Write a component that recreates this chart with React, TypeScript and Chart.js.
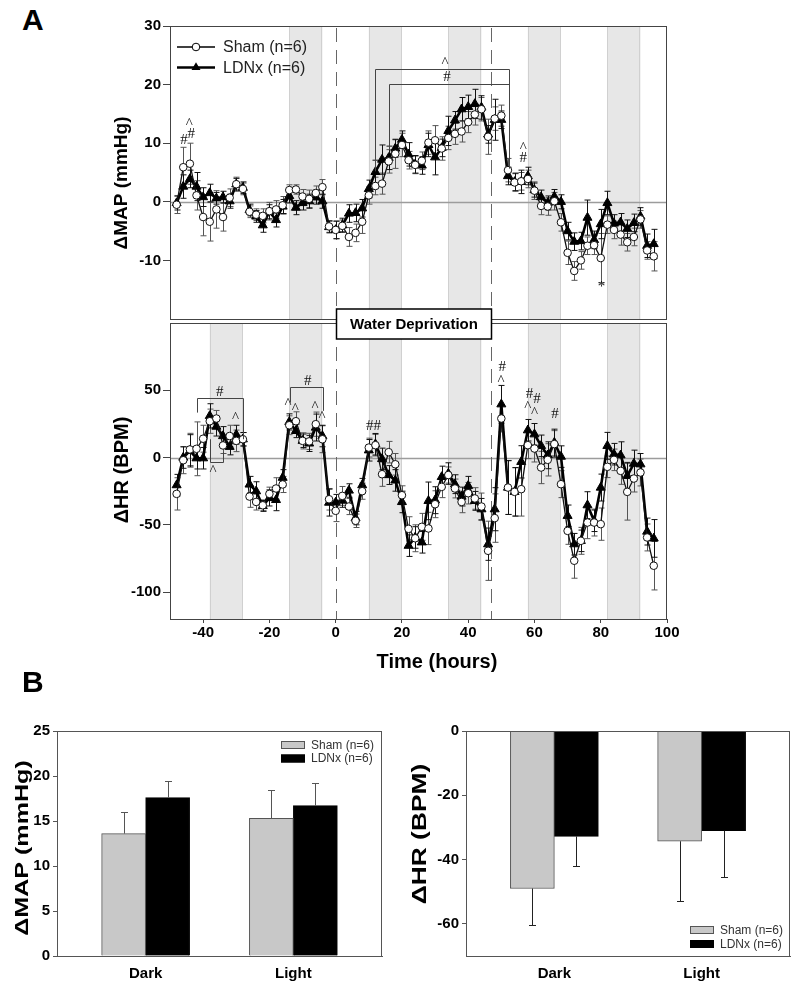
import React, { useEffect, useRef } from 'react';
import { Chart, registerables } from 'chart.js';

Chart.register(...registerables);

const FONT = '"Liberation Sans", Arial, Helvetica, sans-serif';
const SERIF = '"Liberation Serif", "Times New Roman", serif';

// ---------------- Panel A data ----------------
const HOURS = [
  -48, -46, -44, -42, -40, -38, -36, -34, -32, -30,
  -28, -26, -24, -22, -20, -18, -16, -14, -12, -10,
  -8, -6, -4, -2, 0, 2, 4, 6, 8, 10,
  12, 14, 16, 18, 20, 22, 24, 26, 28, 30,
  32, 34, 36, 38, 40, 42, 44, 46, 48, 50,
  52, 54, 56, 58, 60, 62, 64, 66, 68, 70,
  72, 74, 76, 78, 80, 82, 84, 86, 88, 90,
  92, 94, 96,
];

const MAP_SHAM = [
  -0.5, 5.9, 6.5, 1.1, -2.6, -3.4, -1.3, -2.6, 0.7, 3.0,
  2.2, -1.7, -2.2, -2.4, -1.6, -1.3, -0.6, 2.0, 2.1, 0.9,
  0.5, 1.5, 2.5, -4.2, -4.8, -4.1, -6.0, -5.3, -3.4, 1.1,
  2.7, 3.1, 6.9, 8.2, 9.7, 7.1, 6.3, 7.0, 10.1, 10.5,
  9.1, 10.9, 11.6, 12.0, 13.6, 14.9, 15.8, 11.1, 14.2, 14.7,
  5.4, 3.3, 3.5, 3.9, 1.9, -0.7, -0.8, 0.1, -3.5, -8.7,
  -11.8, -10.0, -7.5, -7.4, -9.6, -3.9, -4.8, -5.6, -6.9, -6.0,
  -3.0, -8.3, -9.3,
];
const MAP_SHAM_ERR = [
  1.5, 3.4, 3.5, 2.5, 3.2, 3.3, 3.2, 2.4, 1.5, 1.2,
  1.0, 1.0, 1.0, 1.2, 1.5, 1.5, 1.5, 0.9, 0.8, 1.2,
  1.5, 1.2, 1.3, 1.0, 1.5, 1.0, 1.6, 1.5, 2.0, 1.5,
  1.5, 1.8, 2.0, 2.5, 2.0, 1.5, 1.5, 1.5, 2.0, 2.5,
  2.0, 2.0, 1.8, 1.8, 1.8, 1.8, 2.0, 3.0, 2.0, 1.8,
  2.0, 1.5, 1.5, 1.5, 1.5, 1.5, 1.5, 1.5, 1.5, 2.0,
  1.6, 1.5, 1.5, 1.6, 4.2, 1.5, 1.5, 1.8, 1.5, 1.5,
  1.5, 1.5, 2.5,
];
const MAP_LDNX = [
  -0.2, 2.6, 3.9, 2.6, 0.8, 1.5, 0.6, 0.8, 0.1, 3.0,
  2.4, -1.4, -2.5, -4.0, -1.7, -3.1, -0.8, 1.0, -1.0, -0.2,
  0.1, 0.8, 0.1, -4.3, -4.8, -4.0, -2.0, -1.9, -1.1, 2.2,
  5.1, 7.2, 7.5, 9.1, 10.6, 8.1, 6.4, 6.2, 9.7, 7.6,
  9.2, 12.1, 13.9, 15.8, 16.2, 16.7, 16.1, 11.5, 14.0, 14.0,
  4.4, 3.4, 3.4, 4.4, 2.0, 0.8, -0.2, 0.9, 0.0, -5.0,
  -6.8, -6.7, -2.7, -6.5, -3.8, -0.2, -3.7, -3.5, -4.6, -3.6,
  -2.5, -7.5, -7.2,
];
const MAP_LDNX_ERR = [
  1.2, 2.0, 1.5, 2.4, 1.6, 1.5, 1.0, 1.0, 1.2, 1.0,
  1.0, 1.0, 1.0, 1.2, 1.2, 1.2, 1.2, 1.2, 1.2, 1.2,
  1.2, 1.2, 1.2, 1.0, 1.5, 1.2, 1.5, 1.5, 1.5, 1.5,
  2.0, 2.5, 2.0, 1.5, 1.5, 2.0, 1.5, 1.5, 2.0, 3.0,
  1.5, 2.5, 1.5, 2.0, 2.0, 2.5, 2.0, 1.5, 3.5, 1.5,
  1.5, 1.5, 2.0, 1.5, 1.2, 1.2, 1.2, 1.2, 1.2, 1.5,
  1.5, 1.5, 3.0, 1.5, 2.5, 2.0, 1.5, 1.5, 1.5, 1.5,
  1.5, 2.0, 2.5,
];

const HR_SHAM = [
  -27, -2, 6, 6.5, 14, 27, 29, 9, 16, 12.4,
  13.6, -29, -33, -35.5, -27, -23, -20, 24, 27, 12.4,
  12, 24.8, 13.6, -31, -39.6, -28.5, -36.4, -47, -25, 7.4,
  9.2, -12.4, 4, -5, -28, -53, -60, -51.5, -52.7, -34.7,
  -21.8, -13, -23, -33, -26.5, -30.4, -36.4, -69.3, -45, 29,
  -22.3, -25.5, -23.5, 9.2, 6.7, -7.4, -1.7, 10, -19.8, -54.5,
  -76.7, -61.9, -48.3, -48.3, -49.5, -6.9, -1.7, -9.9, -25.5, -15.6,
  -11.1, -59.4, -80.4,
];
const HR_SHAM_ERR = [
  12, 10, 12, 20, 10, 9, 6, 6, 8, 8,
  5, 8, 6, 4, 5, 8, 6, 7, 7, 6,
  6, 9, 10, 8, 8, 7, 6, 5, 6, 7,
  8, 9, 8, 8, 7, 9, 10, 10, 12, 10,
  8, 6, 7, 8, 8, 8, 10, 22, 18, 10,
  20, 18, 20, 10, 10, 12, 12, 10, 10, 10,
  13, 10, 12, 10, 12, 8, 8, 10, 21, 10,
  10, 10, 18,
];
const HR_LDNX = [
  -20.5, 0, 5, -0.5, -0.5, 31, 23, 16, 8, 17,
  13.6, -20, -25, -36, -30, -31.5, -15, 26.5, 19.8, 12.5,
  10.5, 22.3, 16, -33.5, -33.4, -32, -24.5, -45, -20.5, 5.4,
  9.9, -1, -13, -17, -33, -65.5, -59.4, -63, -32.2, -31.7,
  -14.4, -11.9, -19.8, -29, -21, -32.2, -38.4, -64.4, -38.4, 39.6,
  -22.3, -25.5, -3.2, 20.3, 17.3, 8.7, 1.7, 11.1, 0.7, -43.3,
  -64.4, -61.9, -35.4, -47, -22.3, 8.7, 2.5, 1.7, -13.6, -4.5,
  -5, -55, -60.1,
];
const HR_LDNX_ERR = [
  8, 8, 12, 8, 8, 9, 7, 7, 6, 7,
  5, 6, 7, 4, 6, 8, 6, 6, 5, 5,
  6, 10, 8, 10, 6, 5, 5, 5, 5, 8,
  8, 8, 7, 8, 8, 8, 8, 8, 14, 10,
  8, 8, 7, 7, 7, 7, 8, 12, 16, 14,
  20, 18, 12, 8, 8, 8, 10, 10, 8, 8,
  8, 8, 10, 8, 10, 10, 8, 10, 10, 10,
  8, 10, 14,
];

// dark periods (hours) and water-deprivation window
const MAP_BANDS = [[-14, -4], [10, 20], [34, 44], [58, 68], [82, 92]];
const HR_BANDS = [[-38, -28], [-14, -4], [10, 20], [34, 44], [58, 68], [82, 92]];
const WD_START = 0;
const WD_END = 47;

// significance marks (hour, value, symbol)
const MAP_MARKS = [
  { t: -45.8, v: 10.5, text: '#' }, { t: -43.6, v: 11.6, text: '#' }, { t: -44.2, v: 13.8, text: '^' },
  { t: 33, v: 24.2, text: '^' }, { t: 33.6, v: 21.3, text: '#' },
  { t: 56.6, v: 9.7, text: '^' }, { t: 56.6, v: 7.5, text: '#' },
  { t: 80.2, v: -13.8, text: '*' },
];
const MAP_BRACKETS = [
  { t1: 12, t2: 52.2, v: 22.6, l1: 5.2, l2: 5.7 },
  { t1: 16, t2: 52.2, v: 20.1, l1: 8.8, l2: 5.7 },
];
const HR_MARKS = [
  { t: -35, v: 48.7, text: '#' }, { t: -37, v: -8, text: '^' }, { t: -30.2, v: 31.4, text: '^' },
  { t: -8.4, v: 56.9, text: '#' }, { t: -14.4, v: 42, text: '^' }, { t: -12.2, v: 37.9, text: '^' },
  { t: -6.2, v: 39.6, text: '^' }, { t: -4.1, v: 32.2, text: '^' },
  { t: 11.4, v: 23.5, text: '##' },
  { t: 50.3, v: 67.6, text: '#' }, { t: 49.9, v: 59.4, text: '^' },
  { t: 58.5, v: 47, text: '#' }, { t: 60.8, v: 43.8, text: '#' }, { t: 58, v: 40, text: '^' }, { t: 60, v: 35.4, text: '^' },
  { t: 66.2, v: 32.2, text: '#' },
];
const HR_BRACKETS = [
  { t1: -42, t2: -28, v: 44.6, l1: 33.4, l2: 13.6 },
  { t1: -38, t2: -34, v: -3, l1: 13.6, l2: 4 },
  { t1: -13.7, t2: -3.9, v: 52.7, l1: 40.8, l2: 34.7 },
];

// ---------------- Panel B data ----------------
const B_CATS = ['Dark', 'Light'];
const B_MAP_SHAM = [13.6, 15.3];
const B_MAP_SHAM_ERR = [2.4, 3.1];
const B_MAP_LDNX = [17.6, 16.7];
const B_MAP_LDNX_ERR = [1.9, 2.5];
const B_HR_SHAM = [-49, -34.3];
const B_HR_SHAM_ERR = [11.3, 18.5];
const B_HR_LDNX = [-32.8, -31];
const B_HR_LDNX_ERR = [9.1, 14.3];

// ---------------- helpers ----------------
const GLYPH_DY: any = { '^': 3, '*': 4, '#': 0, '##': 0 };

function pts(vals: number[]) {
  return HOURS.map((h, i) => ({ x: h, y: vals[i] }));
}

function lineSets(sham: number[], ldnx: number[]) {
  return [
    {
      label: 'Sham (n=6)', data: pts(sham), borderColor: '#111', borderWidth: 1.3,
      pointStyle: 'circle', pointRadius: 3.8, pointBackgroundColor: '#fff',
      pointBorderColor: '#111', pointBorderWidth: 1, order: 0,
    },
    {
      label: 'LDNx (n=6)', data: pts(ldnx), borderColor: '#000', borderWidth: 2.6,
      pointStyle: 'triangle', pointRadius: 5.2, pointBackgroundColor: '#000',
      pointBorderColor: '#000', pointBorderWidth: 1, order: 1,
    },
  ];
}

function drawVText(ctx: any, text: string, cx: number, cy: number, size: number, stretch = 1) {
  ctx.save();
  ctx.translate(cx, cy);
  ctx.rotate(-Math.PI / 2);
  ctx.scale(stretch, 1);
  ctx.font = `bold ${size}px ${FONT}`;
  ctx.fillStyle = '#000';
  ctx.textAlign = 'center';
  ctx.textBaseline = 'middle';
  ctx.fillText(text, 0, 0);
  ctx.restore();
}

function drawTriangle(ctx: any, x: number, y: number, r: number) {
  ctx.beginPath();
  ctx.moveTo(x, y - r);
  ctx.lineTo(x + r * 0.866, y + r * 0.5);
  ctx.lineTo(x - r * 0.866, y + r * 0.5);
  ctx.closePath();
  ctx.fill();
}

function timePanelPlugin(cfg: any) {
  return {
    id: 'timePanel',
    beforeDatasetsDraw(chart: any) {
      const { ctx, chartArea: a, scales } = chart;
      const x = scales.x, y = scales.y;
      ctx.save();
      // dark-period bands
      for (const [b1, b2] of cfg.bands) {
        const x1 = x.getPixelForValue(b1), x2 = x.getPixelForValue(b2);
        ctx.fillStyle = '#e7e7e7';
        ctx.fillRect(x1, a.top, x2 - x1, a.bottom - a.top);
        ctx.strokeStyle = '#d0d0d0';
        ctx.lineWidth = 1;
        ctx.beginPath();
        ctx.moveTo(Math.round(x1) + 0.5, a.top); ctx.lineTo(Math.round(x1) + 0.5, a.bottom);
        ctx.moveTo(Math.round(x2) - 0.5, a.top); ctx.lineTo(Math.round(x2) - 0.5, a.bottom);
        ctx.stroke();
      }
      // zero line
      const y0 = Math.round(y.getPixelForValue(0)) + 0.5;
      ctx.strokeStyle = '#9c9c9c';
      ctx.lineWidth = 1.3;
      ctx.beginPath(); ctx.moveTo(a.left, y0); ctx.lineTo(a.right, y0); ctx.stroke();
      // water deprivation dashed lines
      ctx.setLineDash([14, 8]);
      ctx.strokeStyle = '#666';
      ctx.lineWidth = 1;
      for (const t of [WD_START, WD_END]) {
        const px = Math.round(x.getPixelForValue(t)) + 0.5;
        ctx.beginPath(); ctx.moveTo(px, a.top + 2); ctx.lineTo(px, a.bottom); ctx.stroke();
      }
      ctx.setLineDash([]);
      // error bars
      chart.data.datasets.forEach((ds: any, di: number) => {
        const meta = chart.getDatasetMeta(di);
        ctx.strokeStyle = cfg.errColors[di];
        ctx.lineWidth = 1;
        meta.data.forEach((el: any, i: number) => {
          const v = ds.data[i].y, e = cfg.errs[di][i];
          const px = Math.round(el.x) + 0.5;
          const yt = y.getPixelForValue(v + e), yb = y.getPixelForValue(v - e);
          ctx.beginPath();
          ctx.moveTo(px, yt); ctx.lineTo(px, yb);
          ctx.moveTo(px - 3, yt); ctx.lineTo(px + 3, yt);
          ctx.moveTo(px - 3, yb); ctx.lineTo(px + 3, yb);
          ctx.stroke();
        });
      });
      ctx.restore();
    },
    afterDatasetsDraw(chart: any) {
      const { ctx, chartArea: a, scales } = chart;
      const x = scales.x, y = scales.y;
      ctx.save();
      // frame
      ctx.strokeStyle = '#444';
      ctx.lineWidth = 1;
      ctx.strokeRect(Math.round(a.left) + 0.5, Math.round(a.top) + 0.5, Math.round(a.right - a.left) - 1, Math.round(a.bottom - a.top));
      // brackets
      ctx.strokeStyle = '#444';
      for (const b of cfg.brackets) {
        const x1 = Math.round(x.getPixelForValue(b.t1)) + 0.5, x2 = Math.round(x.getPixelForValue(b.t2)) + 0.5;
        const yb = Math.round(y.getPixelForValue(b.v)) + 0.5;
        ctx.beginPath();
        ctx.moveTo(x1, y.getPixelForValue(b.l1)); ctx.lineTo(x1, yb); ctx.lineTo(x2, yb); ctx.lineTo(x2, y.getPixelForValue(b.l2));
        ctx.stroke();
      }
      // significance marks
      ctx.fillStyle = '#111';
      ctx.font = `15px ${SERIF}`;
      ctx.textAlign = 'center';
      ctx.textBaseline = 'middle';
      for (const m of cfg.marks) {
        ctx.fillText(m.text, x.getPixelForValue(m.t), y.getPixelForValue(m.v) + (GLYPH_DY[m.text] || 0));
      }
      // legend
      if (cfg.legend) {
        const ds = chart.data.datasets;
        const rows = [47, 67.5];
        rows.forEach((ry: number, i: number) => {
          ctx.strokeStyle = '#000';
          ctx.lineWidth = ds[i].borderWidth;
          ctx.beginPath(); ctx.moveTo(177, ry); ctx.lineTo(215, ry); ctx.stroke();
          if (i === 0) {
            ctx.fillStyle = '#fff'; ctx.lineWidth = 1;
            ctx.beginPath(); ctx.arc(196, ry, 3.8, 0, Math.PI * 2); ctx.fill(); ctx.stroke();
          } else {
            ctx.fillStyle = '#000';
            drawTriangle(ctx, 196, ry, 5.2);
          }
          ctx.fillStyle = '#222';
          ctx.font = `16px ${FONT}`;
          ctx.textAlign = 'left';
          ctx.textBaseline = 'middle';
          ctx.fillText(ds[i].label, 223, ry + 1);
        });
      }
      // water deprivation box
      if (cfg.wdBox) {
        const x1 = Math.round(x.getPixelForValue(WD_START)) + 0.5, x2 = Math.round(x.getPixelForValue(WD_END)) + 0.5;
        const yt = a.top - 14, h = 30;
        ctx.fillStyle = '#fff';
        ctx.fillRect(x1, yt, x2 - x1, h);
        ctx.strokeStyle = '#000';
        ctx.lineWidth = 1.5;
        ctx.strokeRect(x1, yt, x2 - x1, h);
        ctx.fillStyle = '#000';
        ctx.font = `bold 15px ${FONT}`;
        ctx.textAlign = 'center';
        ctx.textBaseline = 'middle';
        ctx.fillText('Water Deprivation', (x1 + x2) / 2, yt + h / 2 + 1);
      }
      // axis titles
      drawVText(ctx, cfg.yTitle, cfg.yTitleX, cfg.yTitleY, cfg.yTitleSize);
      if (cfg.xTitle) {
        ctx.fillStyle = '#000';
        ctx.font = `bold 20px ${FONT}`;
        ctx.textAlign = 'center';
        ctx.textBaseline = 'middle';
        ctx.fillText(cfg.xTitle.text, cfg.xTitle.x, cfg.xTitle.y);
      }
      ctx.restore();
    },
  };
}

const tickFont = { family: FONT, size: 15, weight: 'bold' as const };

function yScale(min: number, max: number, ticks: number[], width: number) {
  return {
    type: 'linear', min, max,
    afterFit: (s: any) => { s.width = width; },
    afterBuildTicks: (s: any) => { s.ticks = ticks.map((v) => ({ value: v })); },
    border: { color: '#444', width: 1 },
    grid: { drawOnChartArea: false, tickLength: 7, color: '#444' },
    ticks: { font: tickFont, color: '#000', padding: 2 },
  };
}

const baseOpts = {
  responsive: false,
  animation: false,
  devicePixelRatio: 1,
  events: [],
  plugins: { legend: { display: false }, tooltip: { enabled: false } },
};

function makeMap() {
  return {
    type: 'line',
    data: { datasets: lineSets(MAP_SHAM, MAP_LDNX) },
    options: {
      ...baseOpts,
      layout: { padding: { left: 108, top: 26, right: 33, bottom: 7 } },
      scales: {
        x: { type: 'linear', min: -50, max: 100, display: false },
        y: yScale(-20, 30, [-10, 0, 10, 20, 30], 62),
      },
    },
    plugins: [timePanelPlugin({
      bands: MAP_BANDS, errs: [MAP_SHAM_ERR, MAP_LDNX_ERR], errColors: ['#555', '#111'],
      marks: MAP_MARKS, brackets: MAP_BRACKETS, legend: true,
      yTitle: '\u0394MAP (mmHg)', yTitleX: 122, yTitleY: 183, yTitleSize: 19,
    })],
  };
}

function makeHr() {
  return {
    type: 'line',
    data: { datasets: lineSets(HR_SHAM, HR_LDNX) },
    options: {
      ...baseOpts,
      layout: { padding: { left: 108, top: 23, right: 33, bottom: 0 } },
      scales: {
        x: {
          type: 'linear', min: -50, max: 100,
          afterFit: (s: any) => { s.height = 61; },
          afterBuildTicks: (s: any) => { s.ticks = [-40, -20, 0, 20, 40, 60, 80, 100].map((v) => ({ value: v })); },
          border: { color: '#444', width: 1 },
          grid: { drawOnChartArea: false, tickLength: 4, color: '#444' },
          ticks: { font: tickFont, color: '#000', padding: 1, maxRotation: 0 },
        },
        y: yScale(-120, 100, [-100, -50, 0, 50], 62),
      },
    },
    plugins: [timePanelPlugin({
      bands: HR_BANDS, errs: [HR_SHAM_ERR, HR_LDNX_ERR], errColors: ['#555', '#111'],
      marks: HR_MARKS, brackets: HR_BRACKETS, wdBox: true,
      yTitle: '\u0394HR (BPM)', yTitleX: 122, yTitleY: 170, yTitleSize: 20,
      xTitle: { text: 'Time (hours)', x: 437, y: 362 },
    })],
  };
}

function barPanelPlugin(cfg: any) {
  return {
    id: 'barPanel',
    afterDatasetsDraw(chart: any) {
      const { ctx, chartArea: a, scales } = chart;
      const y = scales.y;
      ctx.save();
      chart.data.datasets.forEach((ds: any, di: number) => {
        const meta = chart.getDatasetMeta(di);
        ctx.strokeStyle = cfg.errColors[di];
        ctx.lineWidth = 1;
        meta.data.forEach((el: any, i: number) => {
          const v = ds.data[i].y, e = cfg.errs[di][i];
          const end = v + Math.sign(v) * e;
          const px = Math.round(el.x) + 0.5;
          const y1 = Math.round(y.getPixelForValue(end)) + 0.5;
          ctx.beginPath();
          ctx.moveTo(px, y.getPixelForValue(v)); ctx.lineTo(px, y1);
          ctx.moveTo(px - 3.5, y1); ctx.lineTo(px + 3.5, y1);
          ctx.stroke();
        });
      });
      ctx.strokeStyle = '#555';
      ctx.lineWidth = 1;
      ctx.strokeRect(Math.round(a.left) + 0.5, Math.round(a.top) + 0.5, Math.round(a.right - a.left) - 1, Math.round(a.bottom - a.top));
      // legend
      const ds = chart.data.datasets;
      cfg.legendRows.forEach((ry: number, i: number) => {
        ctx.fillStyle = ds[i].backgroundColor;
        ctx.fillRect(cfg.legendX, ry - 4, 24, 8);
        ctx.strokeStyle = ds[i].borderColor;
        ctx.strokeRect(cfg.legendX + 0.5, ry - 3.5, 23, 7);
        ctx.fillStyle = '#333';
        ctx.font = `12px ${FONT}`;
        ctx.textAlign = 'left';
        ctx.textBaseline = 'middle';
        ctx.fillText(ds[i].label, cfg.legendX + 30, ry + 0.5);
      });
      drawVText(ctx, cfg.yTitle, cfg.tx, cfg.ty, cfg.tsize, 1.32);
      ctx.restore();
    },
  };
}

function barSets(sham: number[], ldnx: number[]) {
  return [
    {
      label: 'Sham (n=6)', data: B_CATS.map((_, i) => ({ x: i + 1, y: sham[i] })),
      backgroundColor: '#c8c8c8', borderColor: '#555', borderWidth: 1, barThickness: 44,
    },
    {
      label: 'LDNx (n=6)', data: B_CATS.map((_, i) => ({ x: i + 1, y: ldnx[i] })),
      backgroundColor: '#000', borderColor: '#000', borderWidth: 1, barThickness: 44,
    },
  ];
}

function catScale() {
  return {
    type: 'linear', min: 0.4, max: 2.6, offset: false,
    afterFit: (s: any) => { s.height = 30; },
    afterBuildTicks: (s: any) => { s.ticks = B_CATS.map((_, i) => ({ value: i + 1 })); },
    border: { color: '#555', width: 1 },
    grid: { drawOnChartArea: false, drawTicks: false, offset: false },
    ticks: { font: tickFont, color: '#000', padding: 9, callback: (v: any) => B_CATS[Math.round(v) - 1] },
  };
}

function bY(min: number, max: number, ticks: number[], width: number) {
  return {
    type: 'linear', min, max,
    afterFit: (s: any) => { s.width = width; },
    afterBuildTicks: (s: any) => { s.ticks = ticks.map((v) => ({ value: v })); },
    border: { color: '#555', width: 1 },
    grid: { drawOnChartArea: false, tickLength: 4, color: '#555' },
    ticks: { font: tickFont, color: '#000', padding: 3 },
  };
}

function makeBMap() {
  return {
    type: 'bar',
    data: { datasets: barSets(B_MAP_SHAM, B_MAP_LDNX) },
    options: {
      ...baseOpts,
      layout: { padding: { left: 0, top: 41, right: 10, bottom: 0 } },
      scales: { x: catScale(), y: bY(0, 25, [0, 5, 10, 15, 20, 25], 57) },
    },
    plugins: [barPanelPlugin({
      errs: [B_MAP_SHAM_ERR, B_MAP_LDNX_ERR], errColors: ['#555', '#555'],
      legendX: 281, legendRows: [55, 68.5],
      yTitle: '\u0394MAP (mmHg)', tx: 22.5, ty: 158, tsize: 19,
    })],
  };
}

function makeBHr() {
  return {
    type: 'bar',
    data: { datasets: barSets(B_HR_SHAM, B_HR_LDNX) },
    options: {
      ...baseOpts,
      layout: { padding: { left: 0, top: 41, right: 2, bottom: 0 } },
      scales: { x: catScale(), y: bY(-70, 0, [-60, -40, -20, 0], 74) },
    },
    plugins: [barPanelPlugin({
      errs: [B_HR_SHAM_ERR, B_HR_LDNX_ERR], errColors: ['#222', '#222'],
      legendX: 298, legendRows: [240, 254],
      yTitle: '\u0394HR (BPM)', tx: 28, ty: 144, tsize: 20,
    })],
  };
}

function ChartCanvas({ w, h, x, y, make }: any) {
  const ref = useRef<HTMLCanvasElement>(null);
  useEffect(() => {
    const chart = new Chart(ref.current as HTMLCanvasElement, make());
    return () => chart.destroy();
  }, [make]);
  return (
    <canvas
      ref={ref}
      width={w}
      height={h}
      style={{ position: 'absolute', left: x, top: y, width: w, height: h }}
    />
  );
}

const letterStyle = (top: number): React.CSSProperties => ({
  position: 'absolute', left: 22, top, font: `bold 30px ${FONT}`, lineHeight: '30px', color: '#000',
});

export default function App() {
  return (
    <div style={{ position: 'absolute', left: 0, top: 0, width: 792, height: 986, background: '#fff', overflow: 'hidden' }}>
      <div style={letterStyle(5)}>A</div>
      <ChartCanvas w={700} h={330} x={0} y={0} make={makeMap} />
      <ChartCanvas w={700} h={380} x={0} y={300} make={makeHr} />
      <div style={letterStyle(667)}>B</div>
      <ChartCanvas w={392} h={296} x={0} y={690} make={makeBMap} />
      <ChartCanvas w={400} h={296} x={392} y={690} make={makeBHr} />
    </div>
  );
}
